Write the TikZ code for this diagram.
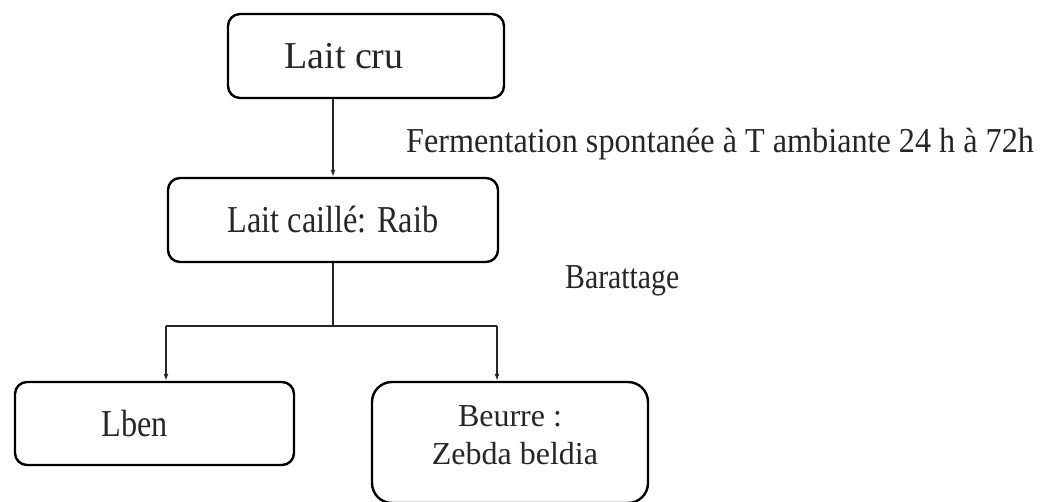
\documentclass[tikz,border=0pt]{standalone}
\usepackage{fontspec}
\setmainfont{Liberation Serif}
\newfontfamily\condserif{Liberation Serif}[FakeStretch=0.85]
\newfontfamily\semicond{Liberation Serif}[FakeStretch=0.92]
\usetikzlibrary{arrows.meta}
\begin{document}
\begin{tikzpicture}[x=1pt,y=-1pt,
  box/.style={draw=black, line width=2.4pt, rounded corners=12pt, inner sep=0pt, align=center, text=black!85},
  lbl/.style={inner sep=0pt, text=black!85},
  conn/.style={draw=black!85, line width=1.8pt},
  tip/.style={-{Latex[length=7pt,width=5pt]}}]
\useasboundingbox (0,0) rectangle (1047,501);
% boxes
\node[box, minimum width=276pt, minimum height=84pt, font=\fontsize{38}{44}\selectfont]
  (cru) at (366,56) {Lait cru\hspace*{44pt}};
\node[box, minimum width=330pt, minimum height=84pt, font=\condserif\fontsize{38}{44}\selectfont]
  (caille) at (333,220) {Lait caillé: Raib};
\node[box, minimum width=279pt, minimum height=83pt, font=\condserif\fontsize{38}{44}\selectfont]
  (lben) at (154.5,423.5) {Lben\hspace*{40pt}};
\node[box, rounded corners=20pt, minimum width=276pt, minimum height=121pt, text depth=14pt,
  font=\fontsize{32}{38}\selectfont]
  (beurre) at (510,442.5) {Beurre :\\ \hspace*{10pt}Zebda beldia};
% labels
\node[lbl, anchor=base west, font=\semicond\fontsize{35}{40}\selectfont] (ferm) at (406,152)
  {Fermentation spontanée à T ambiante 24 h à 72h};
\node[lbl, anchor=base west, font=\condserif\fontsize{35}{40}\selectfont] (bar) at (565,288)
  {Barattage};
% connectors
\coordinate (jl) at (166,326);
\coordinate (jr) at (497,326);
\draw[conn, tip] (caille.north |- cru.south) -- (caille.north);
\draw[conn] (caille.south) -- (caille.south |- jl);
\draw[conn] (jl) -- (jr);
\draw[conn, tip] (jl) -- (jl |- lben.north);
\draw[conn, tip] (jr) -- (jr |- beurre.north);
\end{tikzpicture}
\end{document}
